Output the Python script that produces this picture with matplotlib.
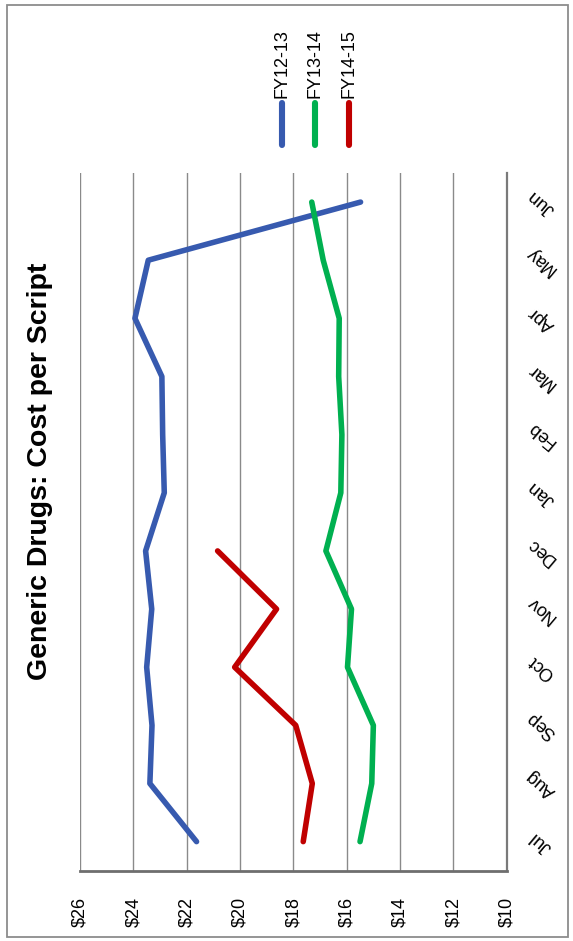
import matplotlib
matplotlib.use("Agg")
import matplotlib.pyplot as plt
from matplotlib.lines import Line2D
from matplotlib.patches import Rectangle

plt.rcParams['font.family'] = ['Liberation Sans', 'DejaVu Sans']

# Monthly generic drug cost per script, by financial year
months = ['Jul', 'Aug', 'Sep', 'Oct', 'Nov', 'Dec',
          'Jan', 'Feb', 'Mar', 'Apr', 'May', 'Jun']
fy12_13 = [21.63, 23.38, 23.30, 23.50, 23.31, 23.54,
           22.84, 22.90, 22.93, 23.94, 23.44, 15.48]
fy13_14 = [15.50, 15.06, 15.00, 15.97, 15.82, 16.78,
           16.22, 16.18, 16.30, 16.28, 16.88, 17.31]
fy14_15 = [17.63, 17.29, 17.91, 20.20, 18.63, 20.84]

series_names = ['FY12-13', 'FY13-14', 'FY14-15']
series_vals = [fy12_13, fy13_14, fy14_15]
colors = ['#375AAF', '#00B050', '#C00000']

dollar_ticks = [26, 24, 22, 20, 18, 16, 14, 12, 10]
dollar_labels = ['$%d' % v for v in dollar_ticks]

W, H = 573, 941
fig = plt.figure(figsize=(W / 100, H / 100), dpi=100)

# outer frame
fig.add_artist(Rectangle((7 / W, 1 - 937 / H), (568 - 7) / W, (937 - 5) / H,
                         transform=fig.transFigure, fill=False,
                         edgecolor='#8c8c8c', linewidth=1.3))

left, right = 80 / W, 506.7 / W
bottom, top = 1 - 870.7 / H, 1 - 173 / H
ax = fig.add_axes([left, bottom, right - left, top - bottom])

ypos = list(range(len(months)))
for name, vals, c in zip(series_names, series_vals, colors):
    ax.plot(vals, ypos[:len(vals)], color=c, linewidth=4.0,
            solid_capstyle='round', solid_joinstyle='round', zorder=3)

ax.set_xlim(26, 10)
ax.set_ylim(-0.5, len(months) - 0.5)

ax.set_xticks(dollar_ticks)
ax.set_xticklabels(dollar_labels, rotation=90, fontsize=13, va='top', ha='center')
ax.set_yticks(ypos)
ax.set_yticklabels(months, rotation=140, fontsize=13, ha='center', va='center',
                   rotation_mode='anchor')
ax.yaxis.tick_right()
ax.tick_params(axis='x', length=0, pad=19)
ax.tick_params(axis='y', length=0, pad=25)

ax.grid(axis='x', color='#8a8a8a', linewidth=1.0)
ax.set_axisbelow(True)

for s in ['top', 'left']:
    ax.spines[s].set_visible(False)
ax.spines['bottom'].set_color('#6e6e6e')
ax.spines['bottom'].set_linewidth(2.0)
ax.spines['right'].set_color('#7a7a7a')
ax.spines['right'].set_linewidth(1.6)

# title, reading upward along the left edge
fig.text(40 / W, 1 - 471 / H, 'Generic Drugs: Cost per Script', rotation=90,
         fontsize=20.5, fontweight='bold', ha='center', va='center')

# legend entries laid out across the top
legend_x = [281.7, 315, 349]
for name, c, lx in zip(series_names, colors, legend_x):
    fig.add_artist(Line2D([lx / W, lx / W], [1 - 145 / H, 1 - 103 / H],
                          transform=fig.transFigure, color=c, linewidth=4.4,
                          solid_capstyle='round'))
    fig.text(lx / W, 1 - 98 / H, name, rotation=90, fontsize=13,
             ha='center', va='bottom')

fig.savefig('out.png', dpi=100)
